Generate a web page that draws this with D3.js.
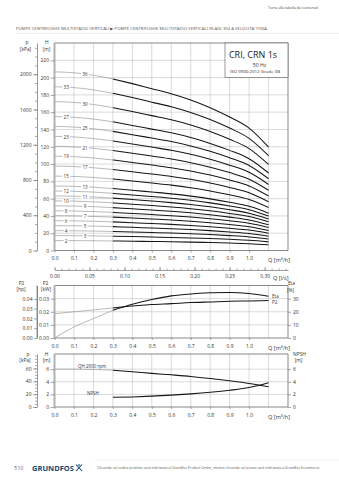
<!DOCTYPE html>
<html><head><meta charset="utf-8">
<script src="https://cdn.jsdelivr.net/npm/d3@7"></script>
<style>html,body{margin:0;padding:0;background:#fff;}svg{display:block;}</style>
</head><body><svg id="c" width="339" height="480"></svg>
<script>
// ---------- DATA ----------
const qPoints = [0, 0.1, 0.2, 0.3, 0.4, 0.5, 0.6, 0.7, 0.8, 0.9, 1.0, 1.1];
const stages = [36, 33, 30, 27, 25, 23, 21, 19, 17, 15, 13, 12, 11, 10, 9, 8, 7, 6, 5, 4, 3, 2];
const headCurves = [
  [206.6, 205.6, 202.7, 198.4, 193.0, 187.2, 181.4, 174.2, 165.2, 154.4, 141.5, 119.5],
  [189.4, 188.4, 185.8, 181.8, 176.9, 171.6, 166.3, 159.7, 151.5, 141.6, 129.7, 109.6],
  [172.2, 171.3, 168.9, 165.3, 160.8, 156.0, 151.2, 145.2, 137.7, 128.7, 117.9, 99.6],
  [155.0, 154.2, 152.0, 148.8, 144.7, 140.4, 136.1, 130.7, 123.9, 115.8, 106.1, 89.6],
  [143.5, 142.8, 140.8, 137.8, 134.0, 130.0, 126.0, 121.0, 114.8, 107.3, 98.3, 83.0],
  [132.0, 131.3, 129.5, 126.7, 123.3, 119.6, 115.9, 111.3, 105.6, 98.7, 90.4, 76.4],
  [120.5, 119.9, 118.2, 115.7, 112.6, 109.2, 105.8, 101.6, 96.4, 90.1, 82.5, 69.7],
  [109.1, 108.5, 107.0, 104.7, 101.8, 98.8, 95.8, 92.0, 87.2, 81.5, 74.7, 63.1],
  [97.6, 97.1, 95.7, 93.7, 91.1, 88.4, 85.7, 82.3, 78.0, 72.9, 66.8, 56.4],
  [86.1, 85.7, 84.5, 82.7, 80.4, 78.0, 75.6, 72.6, 68.9, 64.4, 59.0, 49.8],
  [74.6, 74.2, 73.2, 71.6, 69.7, 67.6, 65.5, 62.9, 59.7, 55.8, 51.1, 43.2],
  [68.9, 68.5, 67.6, 66.1, 64.3, 62.4, 60.5, 58.1, 55.1, 51.5, 47.2, 39.8],
  [63.1, 62.8, 61.9, 60.6, 59.0, 57.2, 55.4, 53.2, 50.5, 47.2, 43.2, 36.5],
  [57.4, 57.1, 56.3, 55.1, 53.6, 52.0, 50.4, 48.4, 45.9, 42.9, 39.3, 33.2],
  [51.7, 51.4, 50.7, 49.6, 48.2, 46.8, 45.4, 43.6, 41.3, 38.6, 35.4, 29.9],
  [45.9, 45.7, 45.0, 44.1, 42.9, 41.6, 40.3, 38.7, 36.7, 34.3, 31.4, 26.6],
  [40.2, 40.0, 39.4, 38.6, 37.5, 36.4, 35.3, 33.9, 32.1, 30.0, 27.5, 23.2],
  [34.4, 34.3, 33.8, 33.1, 32.2, 31.2, 30.2, 29.0, 27.5, 25.7, 23.6, 19.9],
  [28.7, 28.6, 28.2, 27.6, 26.8, 26.0, 25.2, 24.2, 23.0, 21.5, 19.7, 16.6],
  [23.0, 22.8, 22.5, 22.0, 21.4, 20.8, 20.2, 19.4, 18.4, 17.2, 15.7, 13.3],
  [17.2, 17.1, 16.9, 16.5, 16.1, 15.6, 15.1, 14.5, 13.8, 12.9, 11.8, 10.0],
  [11.5, 11.4, 11.3, 11.0, 10.7, 10.4, 10.1, 9.7, 9.2, 8.6, 7.9, 6.6]
];
const etaValues = [0, 8.4, 14.8, 21.1, 25.7, 29.3, 32.1, 33.6, 34.4, 34.7, 33.9, 31.8];
const p2Values = [0.0185, 0.0200, 0.0214, 0.0229, 0.0244, 0.0255, 0.0262, 0.0270, 0.0275, 0.0280, 0.0282, 0.0285];
const qhValues = [6.0, 6.0, 5.95, 5.84, 5.6, 5.33, 5.1, 4.85, 4.53, 4.16, 3.74, 3.2];
const npshQ = [0.3, 0.4, 0.5, 0.6, 0.7, 0.8, 0.9, 1.0, 1.1];
const npshValues = [1.53, 1.6, 1.72, 1.88, 2.08, 2.33, 2.65, 3.08, 3.85];

const qTicks = [0, 0.1, 0.2, 0.3, 0.4, 0.5, 0.6, 0.7, 0.8, 0.9, 1.0];
const hTicks = [0, 20, 40, 60, 80, 100, 120, 140, 160, 180, 200, 220];
const kpaTicks = [0, 400, 800, 1200, 1600, 2000];
const lsTicks = [0, 0.05, 0.10, 0.15, 0.20, 0.25, 0.30];
const kwTicks = [0, 0.01, 0.02, 0.03];
const hpTicks = [0, 0.01, 0.02, 0.03, 0.04];
const etaTicks = [0, 10, 20, 30];
const bHTicks = [0, 2, 4, 6];
const bKpaTicks = [0, 20, 40, 60];

// ---------- SETUP ----------
const FONT = '"Open Sans","Noto Sans",sans-serif';
const svg = d3.select("#c").attr("font-family", FONT);
const X0 = 54.5, X1 = 288;
const xQ = d3.scaleLinear().domain([0, 1.2]).range([X0, X1]);
const xLs = d3.scaleLinear().domain([0, 1.2 / 3.6]).range([X0, X1]);

function txt(x, y, s, size, o = {}) {
  const t = svg.append("text").attr("x", x).attr("y", y)
    .attr("font-size", size).attr("fill", o.fill || "#333")
    .attr("text-anchor", o.anchor || "middle")
    .attr("dominant-baseline", "central").text(s);
  if (o.len) t.attr("textLength", o.len).attr("lengthAdjust", "spacingAndGlyphs");
  if (o.weight) t.attr("font-weight", o.weight);
  return t;
}
function styleAxis(g, size, hideDomain) {
  g.attr("font-family", FONT).attr("font-size", size);
  g.selectAll("text").attr("fill", "#333");
  g.selectAll(".tick line").attr("stroke", "#555").attr("stroke-width", 0.5);
  g.select(".domain").attr("stroke", hideDomain ? "none" : "#555").attr("stroke-width", 0.6);
}
function grid(yScale, hVals, top, bottom) {
  const g = svg.append("g").attr("stroke", "#b4b4b4").attr("stroke-width", 0.5);
  g.selectAll(".v").data(d3.range(1, 12).map(i => i / 10)).join("line")
    .attr("x1", d => xQ(d)).attr("x2", d => xQ(d)).attr("y1", top).attr("y2", bottom);
  g.selectAll(".h").data(hVals).join("line")
    .attr("x1", X0).attr("x2", X1).attr("y1", d => yScale(d)).attr("y2", d => yScale(d));
}
function frame(top, bottom) {
  svg.append("path").attr("d", `M${X0},${top}H${X1}V${bottom}H${X0}`)
    .attr("fill", "none").attr("stroke", "#555").attr("stroke-width", 0.7);
  svg.append("line").attr("x1", X0).attr("x2", X0).attr("y1", top).attr("y2", bottom)
    .attr("stroke", "#b0b0b0").attr("stroke-width", 2);
}
function curve(qs, vs, yScale, splitQ) {
  const pts = qs.map((q, i) => [q, vs[i]]);
  const line = d3.line().x(d => xQ(d[0])).y(d => yScale(d[1])).curve(d3.curveMonotoneX);
  if (splitQ != null) {
    svg.append("path").attr("d", line(pts.filter(d => d[0] <= splitQ + 1e-9)))
      .attr("fill", "none").attr("stroke", "#8c8c8c").attr("stroke-width", 0.6);
  }
  svg.append("path").attr("d", line(pts.filter(d => splitQ == null || d[0] >= splitQ - 1e-9)))
    .attr("fill", "none").attr("stroke", "#161616").attr("stroke-width", 1.05);
}
function xAxisBottom(y) {
  const g = svg.append("g").attr("transform", `translate(0,${y})`)
    .call(d3.axisBottom(xQ).tickValues(qTicks).tickFormat(d3.format(".1f")).tickSize(2).tickSizeOuter(0).tickPadding(4));
  styleAxis(g, 5, true);
  txt(268, y + 9.5, "Q [m³/h]", 5.6, { anchor: "start" });
}

// ---------- HEADER ----------
txt(318, 7, "Torna alla tabella dei contenuti", 4.3, { anchor: "end", fill: "#444", len: 50 });
txt(16, 28.5, "POMPE CENTRIFUGHE MULTISTADIO VERTICALI ▶ POMPE CENTRIFUGHE MULTISTADIO VERTICALI IN AISI 304 A VELOCITA' FISSA", 4, { anchor: "start", fill: "#555", len: 251 });
svg.append("line").attr("x1", 16).attr("x2", 339).attr("y1", 33.5).attr("y2", 33.5).attr("stroke", "#e2e2e2").attr("stroke-width", 0.5);

// ---------- TOP CHART ----------
const T0 = 43, T1 = 250.5;
const yH = d3.scaleLinear().domain([0, 240]).range([T1, T0]);
const yKpa = d3.scaleLinear().domain([0, 240 * 9.81]).range([T1, T0]);
grid(yH, hTicks.filter(d => d > 0), T0, T1);

headCurves.forEach(c => curve(qPoints, c, yH, 0.3));
headCurves.forEach((c, i) => {
  const q = i % 2 === 0 ? 0.157 : 0.06;
  const h = d3.scaleLinear().domain(qPoints).range(c)(q);
  const s = String(stages[i]);
  const w = s.length * 3 + 2;
  svg.append("rect").attr("x", xQ(q) - w / 2).attr("y", yH(h) - 2.3).attr("width", w).attr("height", 4.6).attr("fill", "#fff");
  txt(xQ(q), yH(h), s, 4.6, { fill: "#333" });
});
frame(T0, T1);

const lgTop = T0, lgBot = yH(200);
svg.append("rect").attr("x", 225).attr("y", lgTop).attr("width", X1 - 225).attr("height", lgBot - lgTop)
  .attr("fill", "#fff").attr("stroke", "#555").attr("stroke-width", 0.6);
txt(253, 54.5, "CRI, CRN 1s", 9, { fill: "#222" });
txt(259.5, 64.5, "50 Hz", 5.2, { fill: "#333" });
txt(255, 71.5, "ISO 9906:2012 Grade 3B", 3.9, { fill: "#333", len: 50 });

let g = svg.append("g").attr("transform", `translate(${X0},0)`)
  .call(d3.axisLeft(yH).tickValues(hTicks).tickSize(4).tickSizeOuter(0).tickPadding(1.5));
styleAxis(g, 5, true);
g = svg.append("g").attr("transform", `translate(37,0)`)
  .call(d3.axisLeft(yKpa).tickValues(d3.range(0, 2301, 100)).tickSize(2).tickSizeOuter(0).tickFormat(""));
styleAxis(g, 5, false);
g = svg.append("g").attr("transform", `translate(37,0)`)
  .call(d3.axisLeft(yKpa).tickValues(kpaTicks).tickSize(4).tickSizeOuter(0).tickPadding(1.5).tickFormat(d3.format("d")));
styleAxis(g, 5, true);
txt(27, 42.3, "p", 4.9);
txt(25.5, 48.6, "[kPa]", 4.9);
txt(46.8, 42, "H", 4.9);
txt(46.5, 48.6, "[m]", 4.9);
xAxisBottom(T1);

g = svg.append("g").attr("transform", `translate(0,270)`)
  .call(d3.axisBottom(xLs).tickValues(d3.range(0, 34).map(i => i / 100)).tickSize(-1.5).tickSizeOuter(0).tickFormat(""));
styleAxis(g, 5, false);
g = svg.append("g").attr("transform", `translate(0,270)`)
  .call(d3.axisBottom(xLs).tickValues(lsTicks).tickSize(-3).tickSizeOuter(0).tickPadding(4).tickFormat(d3.format(".2f")));
styleAxis(g, 5, true);
txt(273, 277.5, "Q [l/s]", 5.6, { anchor: "start" });

// ---------- MIDDLE (POWER / ETA) ----------
const M0 = 285.5, M1 = 338;
const yKw = d3.scaleLinear().domain([0, 0.04]).range([M1, M0]);
const yEta = d3.scaleLinear().domain([0, 40]).range([M1, M0]);
const yHp = d3.scaleLinear().domain([0, 0.04 / 0.7457]).range([M1, M0]);
grid(yKw, kwTicks.filter(d => d > 0), M0, M1);
curve(qPoints, etaValues, yEta, 0.3);
curve(qPoints, p2Values, yKw, 0.3);
frame(M0, M1);
txt(272, 296, "Eta", 4.6, { anchor: "start" });
txt(272, 302, "P2", 4.6, { anchor: "start" });
g = svg.append("g").attr("transform", `translate(${X0},0)`)
  .call(d3.axisLeft(yKw).tickValues(kwTicks).tickSize(4).tickSizeOuter(0).tickPadding(1.5).tickFormat(d3.format(".2f")));
styleAxis(g, 5, true);
g = svg.append("g").attr("transform", `translate(37,0)`)
  .call(d3.axisLeft(yHp).tickValues(hpTicks).tickSize(3).tickSizeOuter(0).tickPadding(1.5).tickFormat(d3.format(".2f")));
styleAxis(g, 5, false);
svg.append("line").attr("x1", 37).attr("x2", 37).attr("y1", M0).attr("y2", M1).attr("stroke", "#555").attr("stroke-width", 0.6);
g = svg.append("g").attr("transform", `translate(${X1},0)`)
  .call(d3.axisRight(yEta).tickValues(etaTicks).tickSize(3).tickSizeOuter(0).tickPadding(2));
styleAxis(g, 5, true);
txt(21.5, 282.6, "P2", 4.9);
txt(21, 289, "[hp]", 4.9);
txt(45.5, 282.6, "P2", 4.9);
txt(46, 289, "[kW]", 4.9);
txt(291.5, 282.6, "Eta", 4.9);
txt(290.5, 289.5, "[%]", 4.9);
xAxisBottom(M1);

// ---------- BOTTOM (QH / NPSH) ----------
const B0 = 354, B1 = 407;
const yB = d3.scaleLinear().domain([0, 8.4]).range([B1, B0]);
const yBk = d3.scaleLinear().domain([0, 8.4 * 9.81]).range([B1, B0]);
grid(yB, bHTicks.filter(d => d > 0), B0, B1);
curve(qPoints, qhValues, yB, 0.3);
curve(npshQ, npshValues, yB, null);
frame(B0, B1);
txt(78, 365.8, "QH 2900 rpm", 4.5, { anchor: "start" });
txt(87, 393, "NPSH", 4.5, { anchor: "start" });
g = svg.append("g").attr("transform", `translate(${X0},0)`)
  .call(d3.axisLeft(yB).tickValues(bHTicks).tickSize(4).tickSizeOuter(0).tickPadding(1.5));
styleAxis(g, 5, true);
g = svg.append("g").attr("transform", `translate(37,0)`)
  .call(d3.axisLeft(yBk).tickValues(d3.range(0, 81, 5)).tickSize(2).tickSizeOuter(0).tickFormat(""));
styleAxis(g, 5, false);
g = svg.append("g").attr("transform", `translate(37,0)`)
  .call(d3.axisLeft(yBk).tickValues(bKpaTicks).tickSize(4).tickSizeOuter(0).tickPadding(1.5));
styleAxis(g, 5, true);
g = svg.append("g").attr("transform", `translate(${X1},0)`)
  .call(d3.axisRight(yB).tickValues(bHTicks).tickSize(3).tickSizeOuter(0).tickPadding(2));
styleAxis(g, 5, true);
txt(28, 353.8, "p", 4.9);
txt(25, 360.2, "[kPa]", 4.9);
txt(46.5, 353.8, "H", 4.9);
txt(46.5, 360.2, "[m]", 4.9);
txt(299.5, 353.8, "NPSH", 4.9);
txt(298.5, 360.2, "[m]", 4.9);
xAxisBottom(B1);

// ---------- FOOTER ----------
svg.append("line").attr("x1", 95).attr("x2", 339).attr("y1", 460).attr("y2", 460).attr("stroke", "#e2e2e2").attr("stroke-width", 0.5);
txt(14, 468, "510", 5.5, { anchor: "start", fill: "#4d6f99" });
txt(32, 468, "GRUNDFOS", 6.6, { anchor: "start", fill: "#11497b", weight: "bold", len: 42 });
svg.append("path").attr("d", "M76,464.5 L82,471 M82,464.5 L76,471 M79,464 L79,466")
  .attr("stroke", "#11497b").attr("stroke-width", 1.1).attr("fill", "none");
txt(97, 467.5, "Cliccando sul codice prodotto sarà indirizzato al Grundfos Product Center, mentre cliccando sul prezzo sarà indirizzato a Grundfos Ecommerce.", 3.6, { anchor: "start", fill: "#555", len: 223 });
</script></body></html>
